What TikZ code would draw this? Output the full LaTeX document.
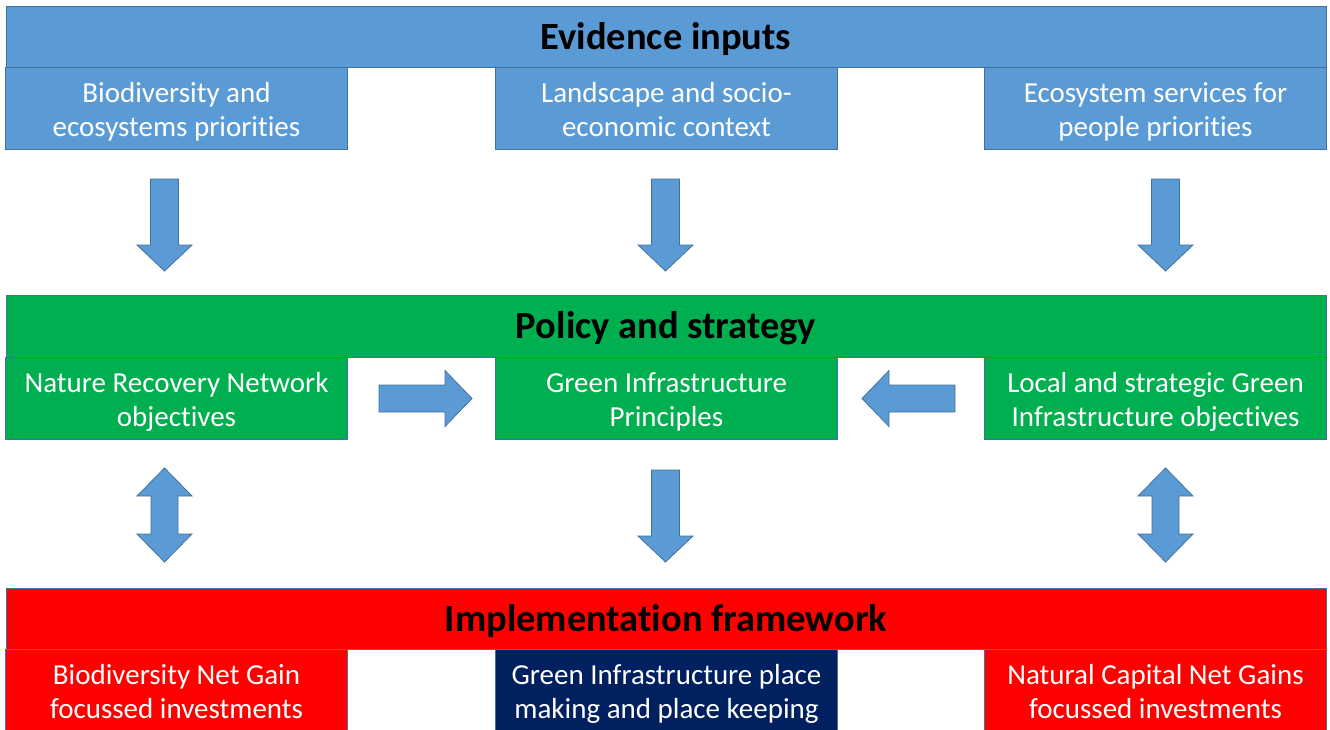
\documentclass[tikz,border=0pt]{standalone}
\usepackage{fontspec}
\setmainfont{Carlito}[Ligatures=NoCommon]
\definecolor{evblue}{HTML}{5B9BD5}
\definecolor{polgreen}{HTML}{00B050}
\definecolor{impred}{HTML}{FF0000}
\definecolor{gidark}{HTML}{002060}
\definecolor{edgeblue}{HTML}{41719C}

\tikzset{
  bar/.style={draw=edgeblue, line width=0.8pt, minimum width=1320pt, minimum height=61pt,
    inner sep=0pt, font=\fontsize{38.5}{44}\selectfont\bfseries, text=black,
    text height=31pt, text depth=6pt},
  sub/.style={draw=edgeblue, line width=0.8pt, minimum width=342pt, minimum height=82pt,
    inner sep=0pt, align=center, font=\fontsize{29}{34}\selectfont, text=white,
    text height=56pt, text depth=0pt},
  blockarrow/.style={fill=evblue, draw=edgeblue, line width=0.8pt, line join=miter},
  % block arrows, origin at the tail
  pics/downarrow/.style={code={
    \draw[blockarrow] (-14,0) -- (14,0) -- (14,66) -- (27.5,66) -- (0,92)
      -- (-27.5,66) -- (-14,66) -- cycle;}},
  pics/rightarrow/.style={code={
    \draw[blockarrow] (0,-13.5) -- (66,-13.5) -- (66,-28) -- (93,0)
      -- (66,28) -- (66,13.5) -- (0,13.5) -- cycle;}},
  pics/bothways/.style={code={
    \draw[blockarrow] (0,0) -- (27.5,28) -- (13.5,28) -- (13.5,66) -- (27.5,66)
      -- (0,94) -- (-27.5,66) -- (-13.5,66) -- (-13.5,28) -- (-27.5,28) -- cycle;}},
}

\begin{document}
\begin{tikzpicture}[x=1pt,y=-1pt]
\useasboundingbox (0,0) rectangle (1330,729);
\clip (0,0) rectangle (1330,729);

% evidence row
\node[bar, fill=evblue] (evidence) at (666,36.5) {Evidence inputs};
\node[sub, fill=evblue] (bio) at (176.5,108) {Biodiversity and\\ecosystems priorities};
\node[sub, fill=evblue] (land) at (666.5,108) {Landscape and socio-\\economic context};
\node[sub, fill=evblue] (ess) at (1155.5,108) {Ecosystem services for\\people priorities};

\pic at (164.5,179) {downarrow};
\pic at (665.5,179) {downarrow};
\pic at (1165.5,179) {downarrow};

% policy row
\node[bar, fill=polgreen, minimum height=62pt] (policy) at (666,326) {Policy and strategy};
\node[sub, fill=polgreen] (nrn) at (176.5,398) {Nature Recovery Network\\objectives};
\node[sub, fill=polgreen] (gip) at (666.5,398) {Green Infrastructure\\Principles};
\node[sub, fill=polgreen] (lsgi) at (1155.5,398) {Local and strategic Green\\Infrastructure objectives};

\pic at (379,398.5) {rightarrow};
\pic[rotate=180] at (955,398.5) {rightarrow};

\pic at (164.5,468) {bothways};
\pic at (665.5,470) {downarrow};
\pic at (1165.5,468) {bothways};

% implementation row
\node[bar, fill=impred] (impl) at (666,618.5) {Implementation framework};
\node[sub, fill=impred] (bng) at (176.5,690) {Biodiversity Net Gain\\focussed investments};
\node[sub, fill=gidark] (gipm) at (666.5,690) {Green Infrastructure place\\making and place keeping};
\node[sub, fill=impred] (ncng) at (1155.5,690) {Natural Capital Net Gains\\focussed investments};
\end{tikzpicture}
\end{document}
